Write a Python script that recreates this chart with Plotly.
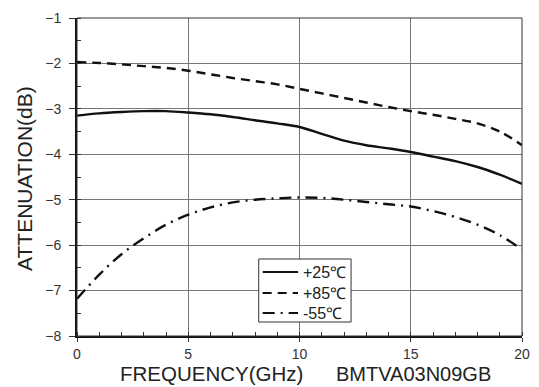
import plotly.graph_objects as go

# Frequency points (GHz)
freq = [0, 1, 2, 3, 4, 5, 6, 7, 8, 9, 10, 11, 12, 13, 14, 15, 16, 17, 18, 19, 20]

# Attenuation (dB) per temperature
att_25 = [-3.15, -3.10, -3.07, -3.05, -3.05, -3.08, -3.12, -3.18, -3.25, -3.32, -3.40,
          -3.55, -3.70, -3.80, -3.87, -3.95, -4.05, -4.15, -4.28, -4.45, -4.65]
att_85 = [-1.97, -1.99, -2.02, -2.06, -2.10, -2.16, -2.24, -2.32, -2.39, -2.46, -2.56,
          -2.66, -2.76, -2.86, -2.96, -3.05, -3.13, -3.22, -3.32, -3.50, -3.80]
att_m55 = [-7.18, -6.65, -6.20, -5.85, -5.55, -5.33, -5.17, -5.06, -5.00, -4.97, -4.95,
           -4.96, -5.00, -5.05, -5.10, -5.15, -5.25, -5.38, -5.55, -5.78, -6.10]

series_names = ["+25℃", "+85℃", "-55℃"]
series_values = [att_25, att_85, att_m55]
dash_styles = ["solid", "9px,6px", "12px,6px,2px,6px"]
x_ticks = [0, 5, 10, 15, 20]
y_ticks = [-8, -7, -6, -5, -4, -3, -2, -1]

FONT = "Liberation Sans, Arial, sans-serif"
INK = "#111"

# plot area geometry (pixels) used to place the key box
W, H = 539, 387
ML, MR, MT, MB = 77, 9, 18, 51
PW, PH = W - ML - MR, H - MT - MB


def px_x(px):
    return (px - ML) / PW


def px_y(py):
    return (H - MB - py) / PH


fig = go.Figure()
for name, vals, dash in zip(series_names, series_values, dash_styles):
    fig.add_trace(go.Scatter(x=freq, y=vals, name=name, mode="lines", showlegend=False,
                             line=dict(color=INK, width=2.4, shape="spline", dash=dash)))

axis_common = dict(
    showgrid=True, gridcolor="#777", gridwidth=1,
    showline=True, linecolor=INK, linewidth=2,
    ticks="outside", tickcolor="#333", tickwidth=1,
    tickfont=dict(family=FONT, size=14, color="#333"),
    zeroline=False,
)

fig.update_xaxes(range=[0, 20], tickvals=x_ticks, ticklen=4,
                 minor=dict(dtick=1, ticks="inside", ticklen=4, tickcolor="#333", showgrid=False),
                 **axis_common)
fig.update_yaxes(range=[-8, -1], tickvals=y_ticks, ticklen=6, ticklabelstandoff=5,
                 minor=dict(dtick=0.5, ticks="inside", ticklen=4, tickcolor="#333", showgrid=False),
                 **axis_common)

# thin frame on the top and right edges
fig.add_shape(type="rect", xref="paper", yref="paper", x0=0, y0=0, x1=1, y1=1,
              line=dict(color="#333", width=1), layer="above")

# key box with line samples and labels
fig.add_shape(type="rect", xref="paper", yref="paper",
              x0=px_x(262), x1=px_x(356), y0=px_y(322), y1=px_y(259),
              line=dict(color="#333", width=1), fillcolor="white", layer="above")
row_y = [272, 293, 313]
for name, dash, ry in zip(series_names, dash_styles, row_y):
    fig.add_shape(type="line", xref="paper", yref="paper",
                  x0=px_x(266), x1=px_x(302), y0=px_y(ry), y1=px_y(ry),
                  line=dict(color=INK, width=2, dash=dash), layer="above")
    fig.add_annotation(text=name, xref="paper", yref="paper", x=px_x(305), y=px_y(ry),
                       xanchor="left", yanchor="middle", showarrow=False,
                       font=dict(family=FONT, size=16, color="#222"))

fig.add_annotation(text="ATTENUATION(dB)", xref="paper", yref="paper", x=px_x(23), y=px_y(178),
                   textangle=-90, showarrow=False, xanchor="center", yanchor="middle",
                   font=dict(family=FONT, size=21, color="#222"))
fig.add_annotation(text="FREQUENCY(GHz)", xref="paper", yref="paper", x=px_x(214), y=px_y(373.5),
                   showarrow=False, xanchor="center", yanchor="middle",
                   font=dict(family=FONT, size=20.5, color="#222"))
fig.add_annotation(text="BMTVA03N09GB", xref="paper", yref="paper", x=px_x(420), y=px_y(374),
                   showarrow=False, xanchor="center", yanchor="middle",
                   font=dict(family=FONT, size=20, color="#222"))

fig.update_layout(
    width=W, height=H,
    margin=dict(l=ML, r=MR, t=MT, b=MB),
    paper_bgcolor="white", plot_bgcolor="white",
    showlegend=False,
)

fig.write_html("out.html")
